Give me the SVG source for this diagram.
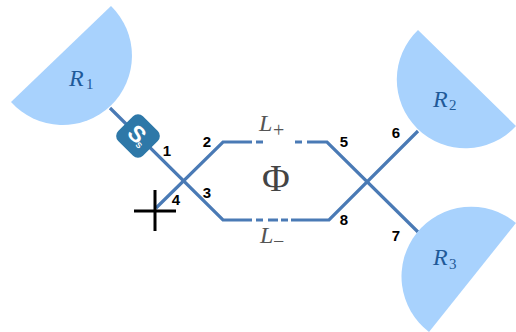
<svg xmlns="http://www.w3.org/2000/svg" width="516" height="332" viewBox="0 0 516 332">
<style>
.mirror{fill:#a8d2fd}
.beam{fill:none;stroke:#4a7ab5;stroke-width:3.2}
.num{font:bold 15px "Liberation Sans",Arial,sans-serif;fill:#000;text-anchor:middle}
.math{font-family:"Liberation Serif","Times New Roman",serif;font-style:italic;fill:#1f5a99}
.sub{font-family:"Liberation Serif","Times New Roman",serif;fill:#1f5a99}
.gmath{font-family:"Liberation Serif","Times New Roman",serif;font-style:italic;fill:#555}
.gsub{font-family:"Liberation Serif","Times New Roman",serif;fill:#555}
</style>
<g id="connectors">
<path class="beam" d="M110 108L223 220H252M256 220H263M268 220H278M281 220H288M291 220H329L418 131"/>
<path class="beam" d="M156 208L223 142H252M256 142H263M295 142H302M307 142H327L418 232"/>
</g>
<g id="r1"><path class="mirror" d="M11 102L111 6A69.35 69.35 0 1 1 11 102Z"/>
<text x="69" y="86" class="math" font-size="24">R</text><text x="86" y="89" class="sub" font-size="15">1</text></g>
<g id="r2"><path class="mirror" d="M418 30L516 126A68.63 68.63 0 1 1 418 30Z"/>
<text x="433" y="107" class="math" font-size="24">R</text><text x="449" y="110" class="sub" font-size="15">2</text></g>
<g id="r3"><path class="mirror" d="M516 223L429 332A69.75 69.75 0 1 1 516 223Z"/>
<text x="433" y="265" class="math" font-size="24">R</text><text x="449" y="269" class="sub" font-size="15">3</text></g>
<g id="source">
<rect x="120.500" y="118.500" width="35" height="35" rx="7" fill="#2e78a8" transform="rotate(45 138 136)"/>
<text x="137" y="142" font-family="Liberation Sans,sans-serif" font-weight="bold" font-size="23" fill="#fff" text-anchor="middle" transform="rotate(45 137 134)">S</text>
<text x="139" y="148" font-family="Liberation Sans,sans-serif" font-weight="bold" font-size="8" fill="#fff" text-anchor="middle" transform="rotate(45 139 145)">S</text>
</g>
<g id="detector"><path d="M134 211H176M155 190V231" stroke="#000" stroke-width="3" fill="none"/></g>
<g id="labels">
<text x="167" y="156" class="num">1</text>
<text x="207" y="147" class="num">2</text>
<text x="207" y="198" class="num">3</text>
<text x="176" y="205" class="num">4</text>
<text x="344" y="147" class="num">5</text>
<text x="396" y="138" class="num">6</text>
<text x="396" y="241" class="num">7</text>
<text x="344" y="225" class="num">8</text>
<text x="259" y="131" class="gmath" font-size="24">L</text><text x="273" y="137" class="gsub" font-size="20">+</text>
<text x="260" y="243" class="gmath" font-size="24">L</text><text x="273" y="248" class="gsub" font-size="20">−</text>
<text x="276" y="191" font-family="Liberation Serif,serif" font-size="38" fill="#444" text-anchor="middle">Φ</text>
</g>
</svg>
